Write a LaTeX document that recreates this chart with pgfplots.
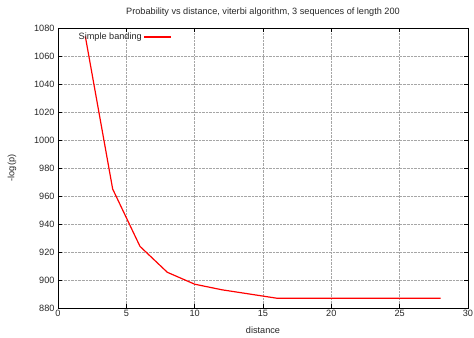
\documentclass[border=0pt]{standalone}
\usepackage{pgfplots}
\pgfplotsset{compat=1.18}
\usepackage{fontspec}
\setmainfont{Liberation Sans}
\begin{document}
\begin{tikzpicture}
\begin{axis}[
  name=ax,
  scale only axis,
  width=410bp, height=280bp,
  xmin=0, xmax=30, ymin=880, ymax=1080,
  xtick={0,5,...,30}, ytick={880,900,...,1080},
  grid=major,
  major grid style={densely dotted, gray!70, line width=0.5pt},
  tick align=inside,
  xtick pos=both, ytick pos=both,
  major tick length=4bp,
  axis line style={black, line width=0.5pt},
  tick style={black, line width=0.5pt},
  /pgf/number format/assume math mode=true,
  /pgf/number format/1000 sep={},
  tick label style={font=\fontsize{9.2}{10}\selectfont, text=black!85},
  xticklabel style={yshift=1bp},
  title={Probability vs distance, viterbi algorithm, 3 sequences of length 200},
  every axis title/.style={at={(rel axis cs:0.5,1)}, anchor=center, yshift=16bp,
    font=\fontsize{9.2}{10}\selectfont, text=black!85},
  xlabel={distance}, ylabel={-log(p)},
  every axis x label/.style={at={(rel axis cs:0.5,0)}, anchor=center, yshift=-22bp,
    font=\fontsize{9.2}{10}\selectfont, text=black!85},
  every axis y label/.style={at={(rel axis cs:0,0.5)}, anchor=center, rotate=90, yshift=46bp,
    font=\fontsize{9.2}{10}\selectfont, text=black!85},
  legend style={at={(rel axis cs:0.045,0.968)}, anchor=west, draw=none, fill=none,
    font=\fontsize{9.2}{10}\selectfont, text=black!85, inner sep=0pt,
    nodes={inner sep=2pt}},
  legend cell align=right,
  legend plot pos=right,
  legend image code/.code={\draw[#1] (1bp,0bp) -- (28bp,0bp);},
]
\addplot[red, line width=1.2pt] coordinates {
  (2,1074) (4,965) (6,924) (8,905.5) (10,897) (12,893) (14,890) (16,887)
  (18,887) (20,887) (22,887) (24,887) (26,887) (28,887)
};
\addlegendentry{Simple banding}
\end{axis}
\pgfresetboundingbox
\path ([shift={(-58bp,-30bp)}]ax.south west) rectangle ([shift={(6bp,28bp)}]ax.north east);
\end{tikzpicture}
\end{document}
